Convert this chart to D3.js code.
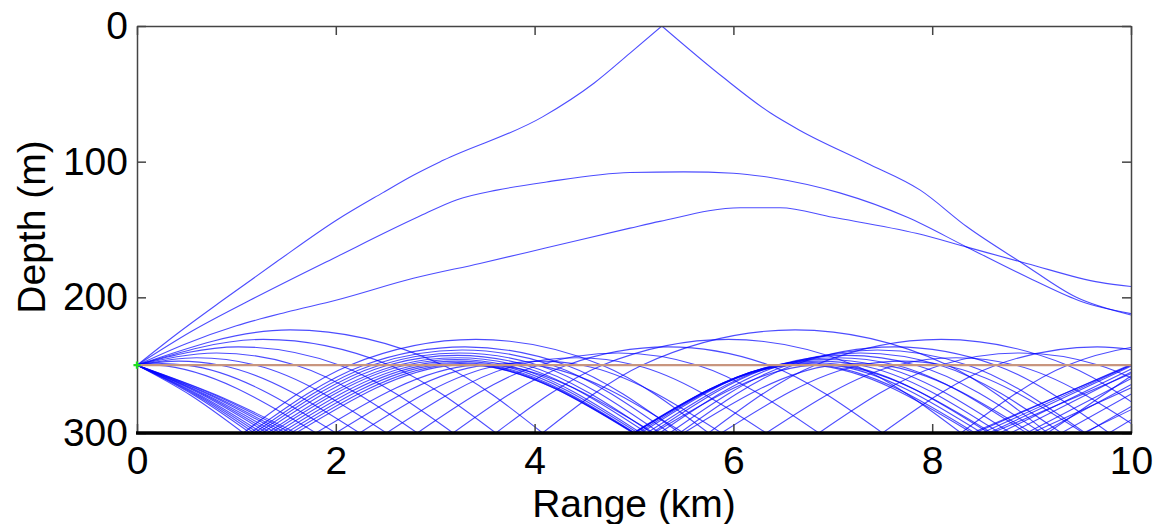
<!DOCTYPE html>
<html>
<head>
<meta charset="utf-8">
<script src="https://cdnjs.cloudflare.com/ajax/libs/d3/7.8.5/d3.min.js"></script>
<style>
body { margin: 0; background: #fff; }
text { font-family: "Liberation Sans", Arial, sans-serif; fill: #000; }
</style>
</head>
<body>
<svg id="chart" width="1156" height="524"></svg>
<script>
// axis ticks
let rangeTicks = [0, 2, 4, 6, 8, 10]
let depthTicks = [0, 100, 200, 300]

let sourceRange = 0
let sourceDepth = 250
let layerDepth = 250
let bottomDepth = 300

// rays that climb out of the layer, points are [range km, depth m]
let surfaceRay = [[0, 250], [0.4, 227], [0.865, 202], [1.4, 174], [2.01, 143], [2.47, 123], [2.78, 110], [3.08, 99], [4.08, 67], [4.6, 42], [4.96, 20], [5.28, 0],
  [5.9, 38], [6.37, 64], [6.67, 77], [7.34, 101], [7.88, 121], [8.35, 148], [8.91, 175], [9.45, 200], [10, 213]]
let highRay = [[0, 250], [0.55, 225], [1.14, 202], [2.01, 170], [2.82, 141], [3.22, 128], [3.62, 121], [4.12, 115], [4.96, 108], [5.5, 107.5], [6.0, 108.5],
  [6.4, 112], [7.07, 123], [7.75, 141], [8.35, 163], [9.01, 187], [9.5, 203], [10, 212]]
let midRay = [[0, 250], [0.5, 234], [1.0, 221], [1.5, 211], [2.01, 202], [2.78, 186], [3.45, 175], [4.12, 163.5], [4.96, 149], [5.26, 144], [6.07, 134],
  [6.47, 134], [7.0, 141], [7.85, 153], [8.35, 163], [8.95, 175], [9.69, 189], [10, 192]]

// trapped rays leaving the source upward
let up1 = [[0, 250], [0.1, 249.7], [0.2, 250], [1.8, 300], [3.4, 250], [3.5, 249.7], [3.6, 250], [5.2, 300], [6.8, 250], [6.9, 249.7], [7.0, 250], [8.6, 300], [10.2, 250]]
let up2 = [[0, 250], [0.25, 248.8], [0.5, 250], [2.0, 300], [3.5, 250], [3.75, 248.8], [4.0, 250], [5.5, 300], [7.0, 250], [7.25, 248.8], [7.5, 250], [9.0, 300], [10.5, 250]]
let up3 = [[0, 250], [0.42, 247], [0.84, 250], [2.24, 300], [3.64, 250], [4.06, 247], [4.48, 250], [5.88, 300], [7.28, 250], [7.7, 247], [8.12, 250], [9.52, 300], [10.92, 250]]
let up4 = [[0, 250], [0.6, 244.5], [1.2, 250], [2.51, 300], [3.82, 250], [4.42, 244.5], [5.02, 250], [6.33, 300], [7.64, 250], [8.24, 244.5], [8.84, 250], [10.15, 300]]
let up5 = [[0, 250], [0.8, 241], [1.6, 250], [2.82, 300], [4.04, 250], [4.84, 241], [5.64, 250], [6.86, 300], [8.08, 250], [8.88, 241], [9.68, 250], [10.9, 300]]
let up6 = [[0, 250], [1.02, 236.5], [2.04, 250], [3.18, 300], [4.32, 250], [5.34, 236.5], [6.36, 250], [7.5, 300], [8.64, 250], [9.66, 236.5], [10.68, 250]]
let up7 = [[0, 250], [1.27, 231], [2.54, 250], [3.61, 300], [4.68, 250], [5.95, 231], [7.22, 250], [8.29, 300], [9.36, 250], [10.63, 231]]
let up8 = [[0, 250], [1.54, 224], [3.08, 250], [4.08, 300], [5.08, 250], [6.62, 224], [8.16, 250], [9.16, 300], [10.16, 250]]

// trapped rays leaving the source downward
let down1 = [[0, 250], [0.8, 272], [1.6, 300], [3.2, 250], [3.3, 249.7], [3.4, 250], [5.0, 300], [6.6, 250], [6.7, 249.7], [6.8, 250], [8.4, 300], [10.0, 250]]
let down1b = [[0, 250], [0.78, 272], [1.55, 300], [3.1, 250], [3.27, 249.3], [3.44, 250], [4.99, 300], [6.54, 250], [6.71, 249.3], [6.88, 250], [8.43, 300], [9.98, 250]]
let down2 = [[0, 250], [0.75, 272], [1.5, 300], [3.0, 250], [3.25, 248.8], [3.5, 250], [5.0, 300], [6.5, 250], [6.75, 248.8], [7.0, 250], [8.5, 300], [10.0, 250]]
let down2b = [[0, 250], [0.73, 272], [1.45, 300], [2.9, 250], [3.23, 248], [3.56, 250], [5.01, 300], [6.46, 250], [6.79, 248], [7.12, 250], [8.57, 300], [10.02, 250]]
let down3 = [[0, 250], [0.7, 272], [1.4, 300], [2.8, 250], [3.22, 247], [3.64, 250], [5.04, 300], [6.44, 250], [6.86, 247], [7.28, 250], [8.68, 300], [10.08, 250]]
let down3b = [[0, 250], [0.68, 272], [1.35, 300], [2.7, 250], [3.21, 245.8], [3.72, 250], [5.07, 300], [6.42, 250], [6.93, 245.8], [7.44, 250], [8.79, 300], [10.14, 250]]
let down4 = [[0, 250], [0.66, 272], [1.31, 300], [2.62, 250], [3.22, 244.5], [3.82, 250], [5.13, 300], [6.44, 250], [7.04, 244.5], [7.64, 250], [8.95, 300], [10.26, 250]]
let down4b = [[0, 250], [0.63, 272], [1.26, 300], [2.52, 250], [3.22, 242.8], [3.92, 250], [5.18, 300], [6.44, 250], [7.14, 242.8], [7.84, 250], [9.1, 300], [10.36, 250]]
let down5 = [[0, 250], [0.61, 272], [1.22, 300], [2.44, 250], [3.24, 241], [4.04, 250], [5.26, 300], [6.48, 250], [7.28, 241], [8.08, 250], [9.3, 300], [10.52, 250]]
let down5b = [[0, 250], [0.59, 272], [1.18, 300], [2.36, 250], [3.27, 238.8], [4.18, 250], [5.36, 300], [6.54, 250], [7.45, 238.8], [8.36, 250], [9.54, 300], [10.72, 250]]
let down6 = [[0, 250], [0.57, 272], [1.14, 300], [2.28, 250], [3.3, 236.5], [4.32, 250], [5.46, 300], [6.6, 250], [7.62, 236.5], [8.64, 250], [9.78, 300], [10.92, 250]]
let down7 = [[0, 250], [0.535, 272], [1.07, 300], [2.14, 250], [3.41, 231], [4.68, 250], [5.75, 300], [6.82, 250], [8.09, 231], [9.36, 250], [10.43, 300]]

let rays = [up1, up2, up3, up4, up5, up6, up7, up8,
  down1, down1b, down2, down2b, down3, down3b, down4, down4b, down5, down5b, down6, down7,
  midRay, highRay, surfaceRay]

function main () {
  let svg = d3.select('#chart')
  let x = d3.scaleLinear().domain([0, 10]).range([137, 1131])
  let y = d3.scaleLinear().domain([0, 300]).range([26, 433])

  svg.append('clipPath').attr('id', 'plotclip')
    .append('rect').attr('x', x(0)).attr('y', y(0)).attr('width', x(10) - x(0)).attr('height', y(300) - y(0))

  let line = d3.line().x((p) => x(p[0])).y((p) => y(p[1])).curve(d3.curveMonotoneX)

  // a ray is cut into legs at each bounce so the corner stays sharp
  function legs (ray) {
    let out = []
    let cur = [ray[0]]
    for (let i = 1; i < ray.length; i++) {
      cur.push(ray[i])
      let d = ray[i][1]
      if ((d === bottomDepth || d === 0) && i < ray.length - 1) {
        out.push(cur)
        cur = [ray[i]]
      }
    }
    out.push(cur)
    return out
  }

  let plot = svg.append('g').attr('clip-path', 'url(#plotclip)')

  plot.selectAll('path.ray').data(rays).enter().append('path')
    .attr('class', 'ray')
    .attr('d', (r) => legs(r).map(line).join(''))
    .attr('fill', 'none')
    .attr('stroke', '#0000ff')
    .attr('stroke-width', 1.1)
    .attr('stroke-opacity', 0.7)

  plot.append('line')
    .attr('x1', x(0)).attr('x2', x(10))
    .attr('y1', y(layerDepth)).attr('y2', y(layerDepth))
    .attr('stroke', '#c8957e').attr('stroke-width', 2.4)

  // axes, ticks pointing inward
  let axisColor = '#444'
  let bottom = svg.append('g').attr('transform', 'translate(0,' + y(300) + ')')
    .call(d3.axisBottom(x).tickValues(rangeTicks).tickSizeInner(-9).tickSizeOuter(0).tickPadding(13).tickFormat(d3.format('d')))
  let left = svg.append('g').attr('transform', 'translate(' + x(0) + ',0)')
    .call(d3.axisLeft(y).tickValues(depthTicks).tickSizeInner(-9).tickSizeOuter(0).tickPadding(9).tickFormat(d3.format('d')))
  let top = svg.append('g').attr('transform', 'translate(0,' + y(0) + ')')
    .call(d3.axisTop(x).tickValues(rangeTicks).tickSizeInner(-9).tickSizeOuter(0).tickFormat(''))
  let right = svg.append('g').attr('transform', 'translate(' + x(10) + ',0)')
    .call(d3.axisRight(y).tickValues(depthTicks).tickSizeInner(-9).tickSizeOuter(0).tickFormat(''))

  for (let g of [bottom, left, top, right]) {
    g.select('.domain').attr('stroke', axisColor).attr('stroke-width', 1.5)
    g.selectAll('.tick line').attr('stroke', axisColor).attr('stroke-width', 1.5)
    g.selectAll('.tick text').attr('font-size', 39).attr('font-family', '"Liberation Sans", Arial, sans-serif').attr('fill', '#000')
  }

  // sea floor
  svg.append('line')
    .attr('x1', x(0) - 1).attr('x2', x(10) + 1)
    .attr('y1', y(bottomDepth)).attr('y2', y(bottomDepth))
    .attr('stroke', '#000').attr('stroke-width', 3.5)

  // source marker
  svg.append('path')
    .attr('d', d3.symbol().type(d3.symbolCross).size(28)())
    .attr('transform', 'translate(' + x(sourceRange) + ',' + y(sourceDepth) + ')')
    .attr('fill', '#22dd22')

  svg.append('text')
    .attr('x', 634).attr('y', 517)
    .attr('text-anchor', 'middle')
    .attr('font-size', 39)
    .text('Range (km)')

  svg.append('text')
    .attr('transform', 'translate(45,227) rotate(-90)')
    .attr('text-anchor', 'middle')
    .attr('font-size', 39)
    .text('Depth (m)')
}

main()
</script>
</body>
</html>
